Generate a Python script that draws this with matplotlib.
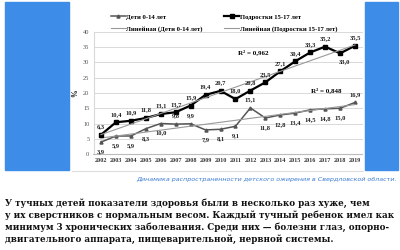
import numpy as np
import matplotlib
matplotlib.use('Agg')
import matplotlib.pyplot as plt
from matplotlib.patches import Rectangle
from matplotlib.lines import Line2D

years = list(range(2002, 2020))
teens = [6.3, 10.4, 10.9, 11.8, 13.1, 13.7, 15.9, 19.4, 20.7, 18.0, 20.8, 23.5, 27.1, 30.4, 33.3, 35.2, 33.0, 35.5]
kids = [3.9, 5.9, 5.9, 8.3, 10.0, 9.8, 9.9, 7.9, 8.1, 9.1, 15.1, 11.8, 12.8, 13.4, 14.5, 14.8, 15.0, 16.9]
# label below (True) or above (False) the point
kids_below = [True, True, True, True, True, False, False, True, True, True, False, True, True, True, True, True, True, False]
teens_below = [False] * 16 + [True, False]
yticks = [0, 5, 10, 15, 20, 25, 30, 35, 40]

caption = "Динамика распространенности детского ожирения в Свердловской области."
body = [
    "У тучных детей показатели здоровья были в несколько раз хуже, чем",
    "у их сверстников с нормальным весом. Каждый тучный ребенок имел как",
    "минимум 3 хронических заболевания. Среди них — болезни глаз, опорно-",
    "двигательного аппарата, пищеварительной, нервной системы.",
]

W, H = 400, 250
fig = plt.figure(figsize=(4, 2.5), dpi=100)
fig.patch.set_facecolor('white')

def fx(px):
    return px / W

def fy(py):
    return 1 - py / H

# blue side panels
blue = '#3d8de8'
fig.patches.append(Rectangle((fx(5), fy(170)), fx(64), 168 / H, transform=fig.transFigure, color=blue, zorder=0))
fig.patches.append(Rectangle((fx(365), fy(170)), fx(33), 168 / H, transform=fig.transFigure, color=blue, zorder=0))
fig.lines.append(Line2D([fx(72), fx(363)], [fy(170.5), fy(170.5)], transform=fig.transFigure, color='#dddddd', lw=0.8))

serif = ['Liberation Serif', 'DejaVu Serif']
ax = fig.add_axes([fx(93.5), fy(154), fx(269), 122 / H])
ax.set_xlim(2001.5, 2019.5)
ax.set_ylim(0, 40)
ax.set_yticks(yticks)
ax.set_xticks(years)
ax.tick_params(length=0, labelsize=4.6, colors='#333333', pad=3)
ax.set_yticklabels([str(v) for v in yticks], fontfamily=serif, color='#555555')
ax.set_xticklabels([str(y) for y in years], fontfamily=serif, fontweight='bold', fontsize=4.4)
ax.yaxis.grid(True, color='#d9d9d9', lw=0.7)
for s in ['top', 'right']:
    ax.spines[s].set_visible(False)
ax.spines['left'].set_color('#d9d9d9')
ax.spines['bottom'].set_color('#bbbbbb')
ax.set_ylabel('%', fontfamily=serif, fontweight='bold', fontsize=5.5, labelpad=3)

x = np.array(years)
k_fit = np.polyfit(x, kids, 1)
t_fit = np.polyfit(x, teens, 1)
l1, = ax.plot(x, kids, color='#555555', lw=1.1, marker='^', ms=2.2, label='Дети 0-14 лет')
l2, = ax.plot(x, np.polyval(k_fit, x), color='#999999', lw=0.8, label='Линейная (Дети 0-14 лет)')
l3, = ax.plot(x, teens, color='black', lw=1.6, marker='s', ms=2.2, label='Подростки 15-17 лет')
l4, = ax.plot(x, np.polyval(t_fit, x), color='#999999', lw=0.8, label='Линейная (Подростки 15-17 лет)')

lab = dict(fontsize=4.7, fontfamily=serif, fontweight='bold', ha='center', color='#222222')
for xi, v, b in zip(years, kids, kids_below):
    ax.annotate(f"{v:.1f}".replace('.', ','), (xi, v), xytext=(0, -5 if b else 4),
                textcoords='offset points', va='top' if b else 'bottom', **lab)
for xi, v, b in zip(years, teens, teens_below):
    ax.annotate(f"{v:.1f}".replace('.', ','), (xi, v), xytext=(3 if b else 0, -4 if b else 4),
                textcoords='offset points', va='top' if b else 'bottom', **lab)

ax.text(2012.2, 33.4, 'R² = 0,962', fontsize=5, fontfamily=serif, fontweight='bold', ha='center', va='center')
ax.text(2017.1, 21.0, 'R² = 0,848', fontsize=5, fontfamily=serif, fontweight='bold', ha='center', va='center')

leg = fig.legend(handles=[l1, l2, l3, l4], ncol=2, loc='upper left', bbox_to_anchor=(fx(105), fy(8)),
                 frameon=False, prop={'family': serif, 'weight': 'bold', 'size': 4.8},
                 handlelength=2.2, handletextpad=0.1, columnspacing=3.2, labelspacing=0.9)

fig.text(fx(397), fy(179), caption, ha='right', va='center', fontsize=4.6, style='italic',
         color='#3a7bd5', fontfamily=['DejaVu Sans'])

for i, line in enumerate(body):
    fig.text(fx(5), fy(203 + i * 12.2), line, ha='left', va='center', fontsize=6.3,
             fontweight='bold', fontfamily=['DejaVu Serif'], color='#111111')

fig.savefig('out.png', dpi=100)
